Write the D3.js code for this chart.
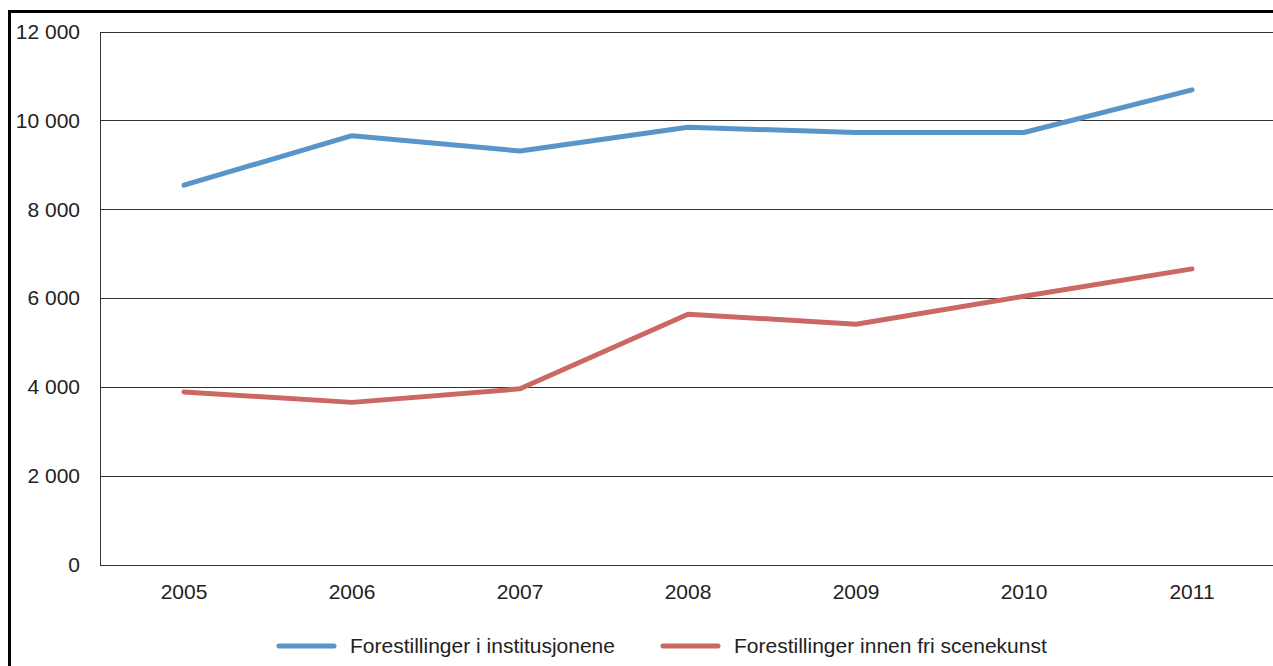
<!DOCTYPE html>
<html>
<head>
<meta charset="utf-8">
<script src="https://cdn.jsdelivr.net/npm/d3@7"></script>
<style>
  html, body { margin: 0; padding: 0; background: #fff; overflow: hidden; }
  svg { display: block; font-family: "Liberation Sans", Arial, sans-serif; }
</style>
</head>
<body>
<div id="chart"></div>
<script>
const years = ["2005", "2006", "2007", "2008", "2009", "2010", "2011"];
const institusjoner = [8540, 9655, 9310, 9845, 9725, 9725, 10685];
const friScenekunst = [3885, 3650, 3955, 5635, 5410, 6040, 6655];
const seriesNames = ["Forestillinger i institusjonene", "Forestillinger innen fri scenekunst"];
const yTicks = [0, 2000, 4000, 6000, 8000, 10000, 12000];

const width = 1273, height = 666;
const colors = ["#5a95c9", "#cc6864"];
const fontSize = 21;

const svg = d3.select("#chart").append("svg")
  .attr("width", width).attr("height", height);

// outer frame (runs off the right and bottom edge)
svg.append("rect")
  .attr("x", 9.5).attr("y", 11.5)
  .attr("width", 1400).attr("height", 800)
  .attr("fill", "none").attr("stroke", "#000").attr("stroke-width", 3);

const x = d3.scalePoint().domain(years).range([100, 1276]).padding(0.5);
const y = d3.scaleLinear().domain([0, 12000]).range([564.5, 31.5]);

const fmt = d => d3.format(",")(d).replace(/,/g, " ");

// gridlines
svg.append("g")
  .selectAll("line")
  .data(yTicks)
  .join("line")
  .attr("x1", 100).attr("x2", width)
  .attr("y1", d => Math.round(y(d)) + 0.5)
  .attr("y2", d => Math.round(y(d)) + 0.5)
  .attr("stroke", "#333").attr("stroke-width", 1);

// y axis line
svg.append("line")
  .attr("x1", 100.5).attr("x2", 100.5)
  .attr("y1", Math.round(y(12000)) + 0.5).attr("y2", Math.round(y(0)) + 0.5)
  .attr("stroke", "#333");

// y labels
svg.append("g")
  .selectAll("text")
  .data(yTicks)
  .join("text")
  .attr("x", 80)
  .attr("y", d => y(d))
  .attr("dy", "0.35em")
  .attr("text-anchor", "end")
  .attr("font-size", fontSize)
  .attr("fill", "#222")
  .text(fmt);

// x labels
svg.append("g")
  .selectAll("text")
  .data(years)
  .join("text")
  .attr("x", d => x(d))
  .attr("y", 592)
  .attr("dy", "0.35em")
  .attr("text-anchor", "middle")
  .attr("font-size", fontSize)
  .attr("fill", "#222")
  .text(d => d);

const line = d3.line()
  .x((d, i) => x(years[i]))
  .y(d => y(d));

[institusjoner, friScenekunst].forEach((vals, i) => {
  svg.append("path")
    .datum(vals)
    .attr("fill", "none")
    .attr("stroke", colors[i])
    .attr("stroke-width", 5)
    .attr("stroke-linecap", "round")
    .attr("stroke-linejoin", "round")
    .attr("d", line);
});

// legend
const legendX = [279, 663];
const legend = svg.append("g")
  .selectAll("g")
  .data(seriesNames)
  .join("g")
  .attr("transform", (d, i) => `translate(${legendX[i]},646)`);

legend.append("line")
  .attr("x1", 0).attr("x2", 55)
  .attr("stroke", (d, i) => colors[i])
  .attr("stroke-width", 5)
  .attr("stroke-linecap", "round");

legend.append("text")
  .attr("x", 71)
  .attr("dy", "0.35em")
  .attr("font-size", fontSize)
  .attr("fill", "#222")
  .text(d => d);
</script>
</body>
</html>
